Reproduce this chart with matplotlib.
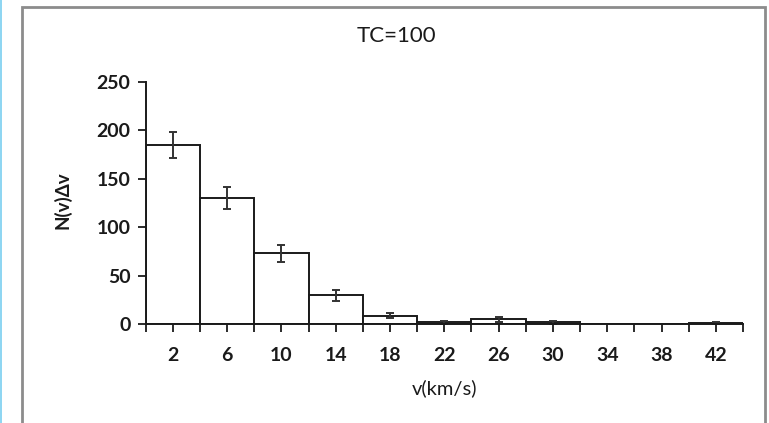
import matplotlib
matplotlib.use('Agg')
import matplotlib.pyplot as plt
from matplotlib.patches import Rectangle

# speed histogram, 4 km/s bins
bin_centers = [2, 6, 10, 14, 18, 22, 26, 30, 34, 38, 42]
counts = [185, 130, 73, 30, 9, 2, 5, 2, 0, 0, 1]
errors = [13.6, 11.4, 8.5, 5.5, 3.0, 1.4, 2.2, 1.4, 0, 0, 1.0]
bin_width = 4

plt.rcParams['font.family'] = ['Lato', 'DejaVu Sans']

fig = plt.figure(figsize=(7.69, 4.23), dpi=100)

# outer chart frame and the blue strip on the left
fig.patches.append(Rectangle((22 / 769, -0.05), (765 - 22) / 769, 1.05 - 7 / 423,
                             transform=fig.transFigure, fill=False,
                             edgecolor='#8c8c8c', linewidth=2))
fig.patches.append(Rectangle((0, 0), 2 / 769, 1, transform=fig.transFigure,
                             facecolor='#8fd6f2', edgecolor='none'))

ax = fig.add_axes([145.7 / 769, 1 - 324.3 / 423,
                   (743 - 145.7) / 769, (324.3 - 81.7) / 423])

ax.bar(bin_centers, counts, width=bin_width, color='white',
       edgecolor='#1a1a1a', linewidth=1.4, zorder=2)
nz = [i for i, e in enumerate(errors) if e > 0]
ax.errorbar([bin_centers[i] for i in nz], [counts[i] for i in nz],
            yerr=[errors[i] for i in nz], fmt='none', ecolor='#333333',
            elinewidth=1.4, capsize=3, capthick=1.4, zorder=3)

ax.set_xlim(0, 44)
ax.set_ylim(0, 250)
ax.set_xticks(bin_centers)
ax.set_xticks(range(0, 45, 4), minor=True)
ax.set_yticks(range(0, 251, 50))
ax.tick_params(axis='both', which='both', direction='out', length=6,
               width=1.3, color='#1a1a1a', labelsize=14, labelcolor='#1a1a1a')
ax.tick_params(axis='x', which='major', pad=10)
ax.tick_params(axis='y', pad=5)
for lbl in ax.get_xticklabels() + ax.get_yticklabels():
    lbl.set_fontweight('bold')

for s in ['top', 'right']:
    ax.spines[s].set_visible(False)
for s in ['left', 'bottom']:
    ax.spines[s].set_linewidth(1.4)
    ax.spines[s].set_color('#1a1a1a')
ax.spines['bottom'].set_zorder(4)

ax.set_xlabel('v(km/s)', fontsize=14.5, color='#1a1a1a', labelpad=11)
fig.text(62 / 769, 1 - 200 / 423, 'N(v)Δv', rotation=90, fontsize=13.5,
         fontweight='bold', color='#1a1a1a', ha='center', va='center')
fig.text(396 / 769, 1 - 36 / 423, 'TC=100', fontsize=16, color='#1a1a1a',
         ha='center', va='center')

fig.savefig('out.png', dpi=100)
